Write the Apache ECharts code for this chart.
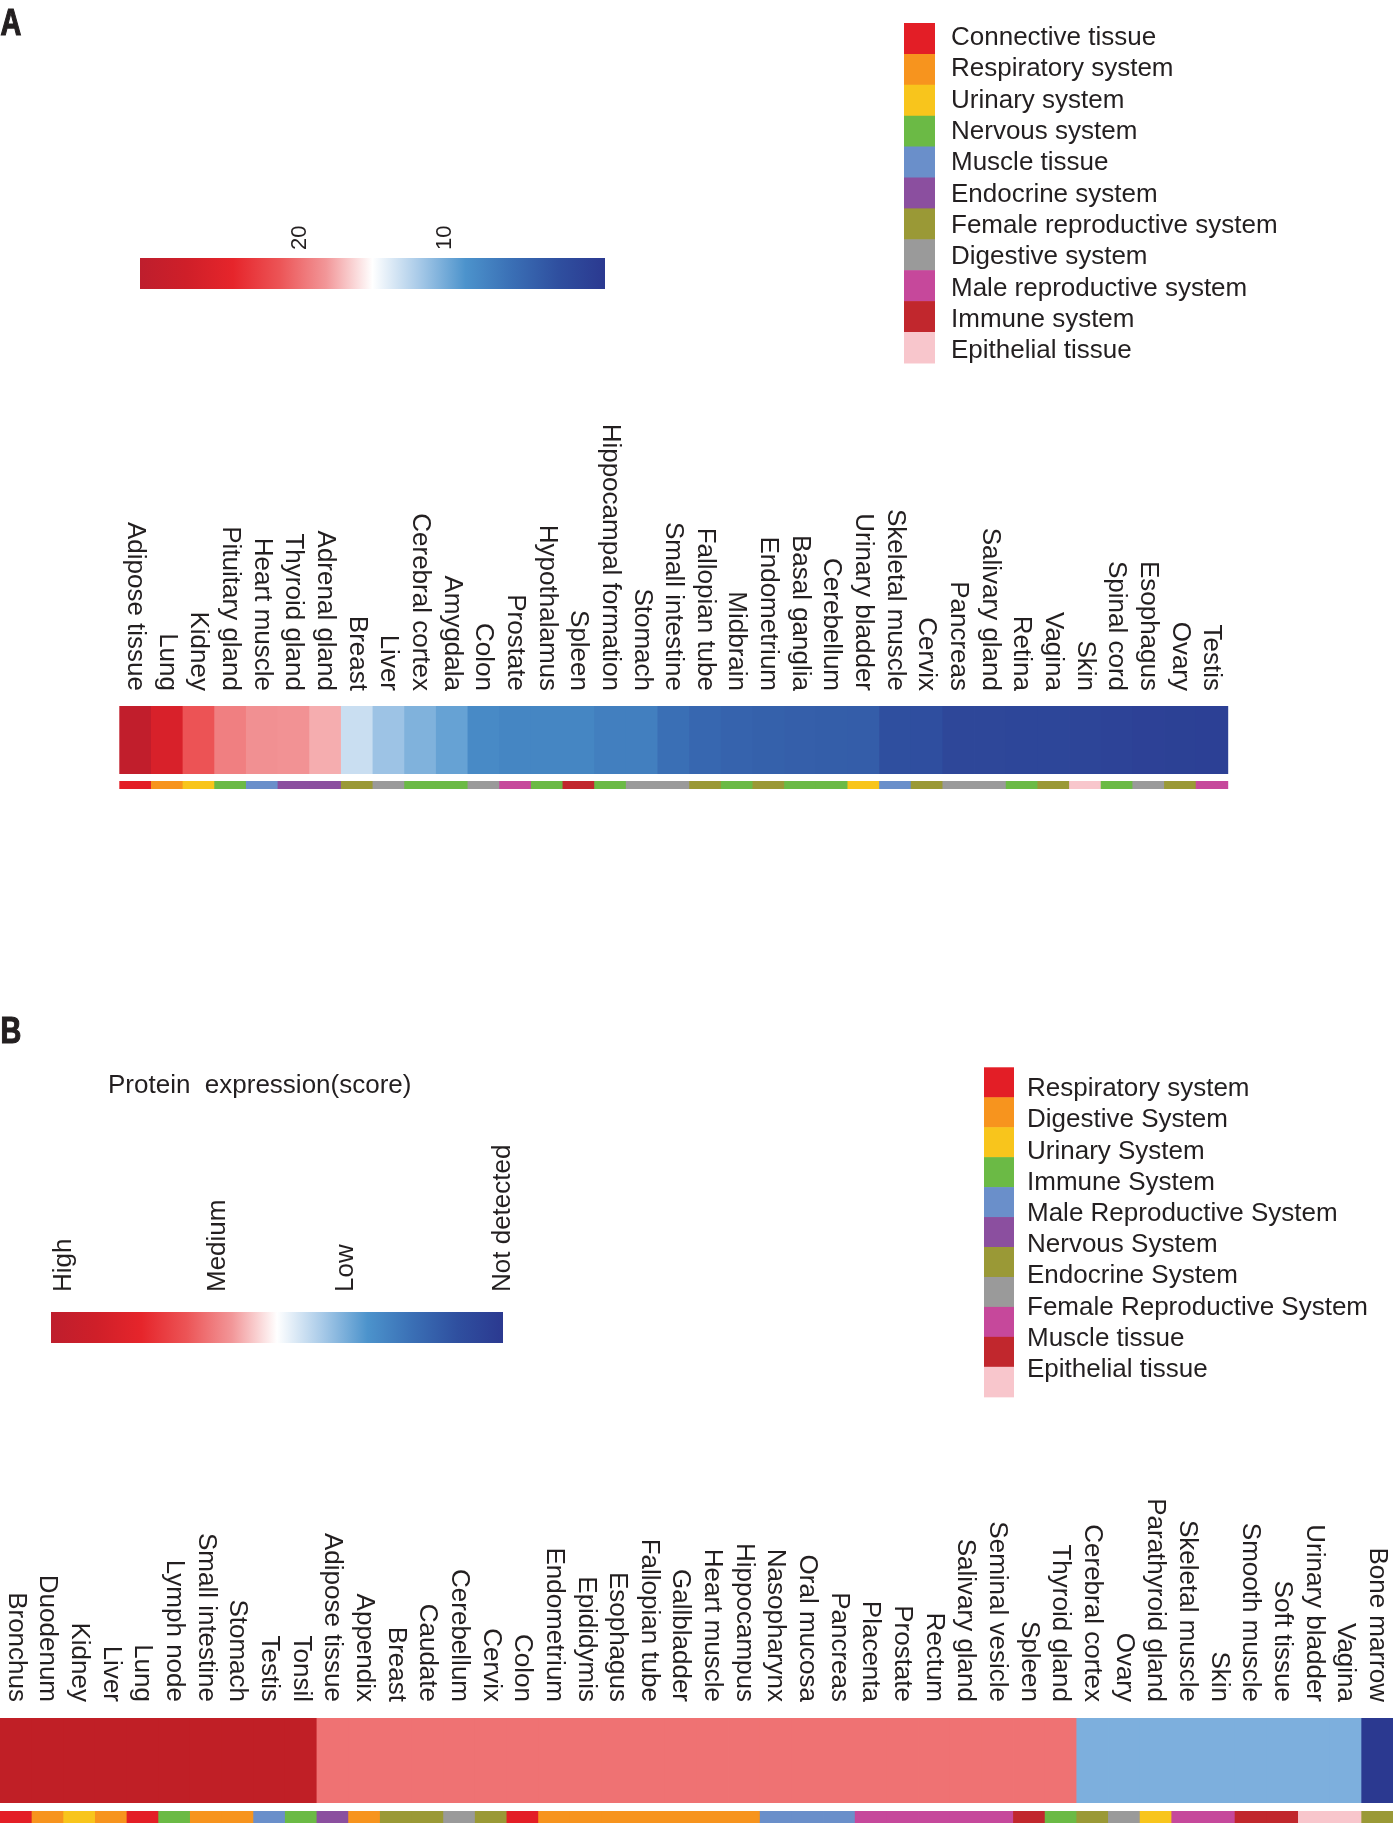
<!DOCTYPE html>
<html>
<head>
<meta charset="utf-8">
<script src="https://cdn.jsdelivr.net/npm/echarts@6/dist/echarts.min.js"></script>
<style>
html,body{margin:0;padding:0;background:#ffffff;}
#c{width:1393px;height:1823px;}
</style>
</head>
<body>
<div id="c"></div>
<script>
// ---------------- DATA ----------------
// Panel A: tissues, expression values, tissue group
const tissuesA = ['Adipose tissue','Lung','Kidney','Pituitary gland','Heart muscle','Thyroid gland','Adrenal gland','Breast','Liver','Cerebral cortex','Amygdala','Colon','Prostate','Hypothalamus','Spleen','Hippocampal formation','Stomach','Small intestine','Fallopian tube','Midbrain','Endometrium','Basal ganglia','Cerebellum','Urinary bladder','Skeletal muscle','Cervix','Pancreas','Salivary gland','Retina','Vagina','Skin','Spinal cord','Esophagus','Ovary','Testis'];
const valuesA = [30.5, 26.5, 21.5, 19.3, 18.5, 18.4, 17.5, 13.0, 11.4, 10.4, 9.5, 7.8, 7.4, 7.4, 7.4, 6.8, 6.8, 5.4, 4.6, 4.2, 4.0, 3.8, 3.7, 3.6, 2.2, 2.1, 1.0, 1.0, 0.9, 0.9, 0.8, 0.45, 0.2, 0.1, 0];
const groupsA = ['Connective tissue','Respiratory system','Urinary system','Nervous system','Muscle tissue','Endocrine system','Endocrine system','Female reproductive system','Digestive system','Nervous system','Nervous system','Digestive system','Male reproductive system','Nervous system','Immune system','Nervous system','Digestive system','Digestive system','Female reproductive system','Nervous system','Female reproductive system','Nervous system','Nervous system','Urinary system','Muscle tissue','Female reproductive system','Digestive system','Digestive system','Nervous system','Female reproductive system','Epithelial tissue','Nervous system','Digestive system','Female reproductive system','Male reproductive system'];
const legendNamesA = ['Connective tissue','Respiratory system','Urinary system','Nervous system','Muscle tissue','Endocrine system','Female reproductive system','Digestive system','Male reproductive system','Immune system','Epithelial tissue'];
const legendColorsA = ['#E31E26','#F7941E','#F8C51C','#6BBA45','#6A8FCA','#8B4F9F','#9A9936','#9A9A9A','#C6489B','#C1272D','#F8C6CC'];
const colorbarTicksA = [20, 10];
const scaleMinA = -1, scaleMaxA = 31;

// Panel B: tissues, protein expression score (3 High, 2 Medium, 1 Low, 0 Not detected)
const tissuesB = ['Bronchus','Duodenum','Kidney','Liver','Lung','Lymph node','Small intestine','Stomach','Testis','Tonsil','Adipose tissue','Appendix','Breast','Caudate','Cerebellum','Cervix','Colon','Endometrium','Epididymis','Esophagus','Fallopian tube','Gallbladder','Heart muscle','Hippocampus','Nasopharynx','Oral mucosa','Pancreas','Placenta','Prostate','Rectum','Salivary gland','Seminal vesicle','Spleen','Thyroid gland','Cerebral cortex','Ovary','Parathyroid gland','Skeletal muscle','Skin','Smooth muscle','Soft tissue','Urinary bladder','Vagina','Bone marrow'];
const scoresB = [3,3,3,3,3,3,3,3,3,3, 2,2,2,2,2,2,2,2,2,2,2,2,2,2,2,2,2,2,2,2,2,2,2,2, 1,1,1,1,1,1,1,1,1, 0];
const stripColorIdxB = [0,1,2,1,0,3,1,1,4,3, 5,1,6,6,7,6,0,1,1,1,1,1,1,1,4,4,4,8,8,8,8,8,9,3, 6,7,2,8,8,9,9,10,10, 6];
const legendNamesB = ['Respiratory system','Digestive System','Urinary System','Immune System','Male Reproductive System','Nervous System','Endocrine System','Female Reproductive System','Muscle tissue','Epithelial tissue'];
const legendColorsB = ['#E31E26','#F7941E','#F8C51C','#6BBA45','#6A8FCA','#8B4F9F','#9A9936','#9A9A9A','#C6489B','#C1272D','#F8C6CC'];
const levelLabelsB = ['High','Medium','Low','Not detected'];
const levelScoresB = [3, 2, 1, 0];
const levelColorsB = ['#C01F26','#EF7273','#7DAFDD','#2B3990'];

// ---------------- STYLE / LAYOUT ----------------
const FONT = '"Liberation Sans", Arial, Helvetica, sans-serif';
const TXT = '#231F20';
const gradHiToLo = ['#BE1E2D','#CF1F29','#E6252B','#EC5456','#F29698','#FFFFFF','#A8CAE8','#4C93CC','#3A6FB5','#2F4F9F','#2B3990'];
const LA = {left:119.3, top:706, colW:31.66, h:68, stripTop:781, stripH:8};
const LB = {left:0, top:1718, colW:1393/44, h:85, stripTop:1811, stripH:14};
const CBA = {x:140, y:258, w:465, h:31, labelBottom:250};
const CBB = {x:51, y:1312, w:452, h:31, labelBottom:1292, labelFrac:[0.028, 0.37, 0.653, 1.0]};
const LEGA = {x:904, y:23, sw:31, sh:30.9, tx:951, ty:38, tStep:31.3};
const LEGB = {x:984, y:1067.3, sw:30, sh:29.95, tx:1027, ty:1089, tStep:31.2};

const wA = LA.colW * tissuesA.length;
const wB = LB.colW * tissuesB.length;

function gradient(){
  return new echarts.graphic.LinearGradient(0,0,1,0, gradHiToLo.map((c,i)=>({offset:i/(gradHiToLo.length-1), color:c})));
}
function txt(text, x, y, size, opts){
  opts = opts || {};
  const style = {text:text, fill:TXT, font:(opts.weight||'normal')+' '+size+'px '+FONT,
      textAlign: opts.align || 'left', textVerticalAlign:'middle', verticalAlign:'middle'};
  if (opts.stroke) { style.stroke = TXT; style.lineWidth = opts.stroke; }
  return {type:'text', x:x, y:y, rotation: opts.rotation || 0, scaleX: opts.scaleX || 1, style:style};
}

const graphics = [];
// panel letters
graphics.push(txt('A', 0.5, 25, 36, {weight:'bold', scaleX:0.8, stroke:1.2}));
graphics.push(txt('B', 0.5, 1033, 36, {weight:'bold', scaleX:0.8, stroke:1.2}));
// colorbar A
graphics.push({type:'rect', shape:{x:CBA.x, y:CBA.y, width:CBA.w, height:CBA.h}, style:{fill:gradient()}});
colorbarTicksA.forEach(v=>{
  const x = CBA.x + (scaleMaxA - v)/(scaleMaxA - scaleMinA)*CBA.w;
  graphics.push(txt(String(v), x, CBA.labelBottom, 22, {rotation:Math.PI/2}));
});
// legend A
legendNamesA.forEach((n,i)=>{
  graphics.push({type:'rect', shape:{x:LEGA.x, y:LEGA.y+LEGA.sh*i, width:LEGA.sw, height:LEGA.sh+0.6}, style:{fill:legendColorsA[i]}});
  graphics.push(txt(n, LEGA.tx, LEGA.ty+LEGA.tStep*i, 26));
});
// panel B title + colorbar
graphics.push(txt('Protein  expression(score)', 108, 1085.5, 26));
graphics.push({type:'rect', shape:{x:CBB.x, y:CBB.y, width:CBB.w, height:CBB.h}, style:{fill:gradient()}});
levelLabelsB.forEach((n,i)=>{
  graphics.push(txt(n, CBB.x + CBB.labelFrac[i]*CBB.w, CBB.labelBottom, 26, {rotation:Math.PI/2}));
});
// legend B (11 swatches, 10 labels)
legendColorsB.forEach((c,i)=>{
  graphics.push({type:'rect', shape:{x:LEGB.x, y:LEGB.y+LEGB.sh*i, width:LEGB.sw, height:LEGB.sh+0.6}, style:{fill:c}});
});
legendNamesB.forEach((n,i)=>{
  graphics.push(txt(n, LEGB.tx, LEGB.ty+LEGB.tStep*i, 26));
});

function catAxis(grid, data, showLabels, margin){
  return {
    type:'category', gridIndex:grid, data:data, position: showLabels ? 'top' : 'bottom',
    axisLine:{show:false}, axisTick:{show:false}, splitLine:{show:false},
    axisLabel: showLabels ? {show:true, interval:0, rotate:90, margin:margin, fontSize:26, fontFamily:FONT, color:TXT} : {show:false}
  };
}
function rowAxis(grid){
  return {type:'category', gridIndex:grid, data:['row'], show:false};
}
// cell renderer: colour from visualMap (palette null) or from a palette by index
function cellRenderer(palette){
  return function(params, api){
    const c = api.coord([api.value(0), 0]);
    const s = api.size([1, 1]);
    const fill = palette ? palette[api.value(2)] : api.visual('color');
    return {type:'rect', shape:{x:c[0]-s[0]/2, y:c[1]-s[1]/2, width:s[0]+0.8, height:s[1]}, style:{fill:fill}};
  };
}

const option = {
  animation:false,
  backgroundColor:'#ffffff',
  grid:[
    {left:LA.left, top:LA.top, width:wA, height:LA.h},
    {left:LA.left, top:LA.stripTop, width:wA, height:LA.stripH},
    {left:LB.left, top:LB.top, width:wB, height:LB.h},
    {left:LB.left, top:LB.stripTop, width:wB, height:LB.stripH}
  ],
  xAxis:[
    catAxis(0, tissuesA, true, 15),
    catAxis(1, tissuesA, false),
    catAxis(2, tissuesB, true, 16),
    catAxis(3, tissuesB, false)
  ],
  yAxis:[rowAxis(0), rowAxis(1), rowAxis(2), rowAxis(3)],
  visualMap:[
    {type:'continuous', show:false, seriesIndex:0, dimension:2, min:scaleMinA, max:scaleMaxA,
     inRange:{color: gradHiToLo.slice().reverse()}},
    {type:'piecewise', show:false, seriesIndex:2, dimension:2,
     pieces: levelScoresB.map((s,i)=>({value:s, color:levelColorsB[i]}))}
  ],
  series:[
    {type:'custom', xAxisIndex:0, yAxisIndex:0, renderItem:cellRenderer(null),
     data: valuesA.map((v,i)=>[i,0,v])},
    {type:'custom', xAxisIndex:1, yAxisIndex:1, renderItem:cellRenderer(legendColorsA),
     data: groupsA.map((g,i)=>[i,0,legendNamesA.indexOf(g)])},
    {type:'custom', xAxisIndex:2, yAxisIndex:2, renderItem:cellRenderer(null),
     data: scoresB.map((v,i)=>[i,0,v])},
    {type:'custom', xAxisIndex:3, yAxisIndex:3, renderItem:cellRenderer(legendColorsB),
     data: stripColorIdxB.map((k,i)=>[i,0,k])}
  ],
  graphic: graphics
};

const chart = echarts.init(document.getElementById('c'));
chart.setOption(option);
</script>
</body>
</html>
